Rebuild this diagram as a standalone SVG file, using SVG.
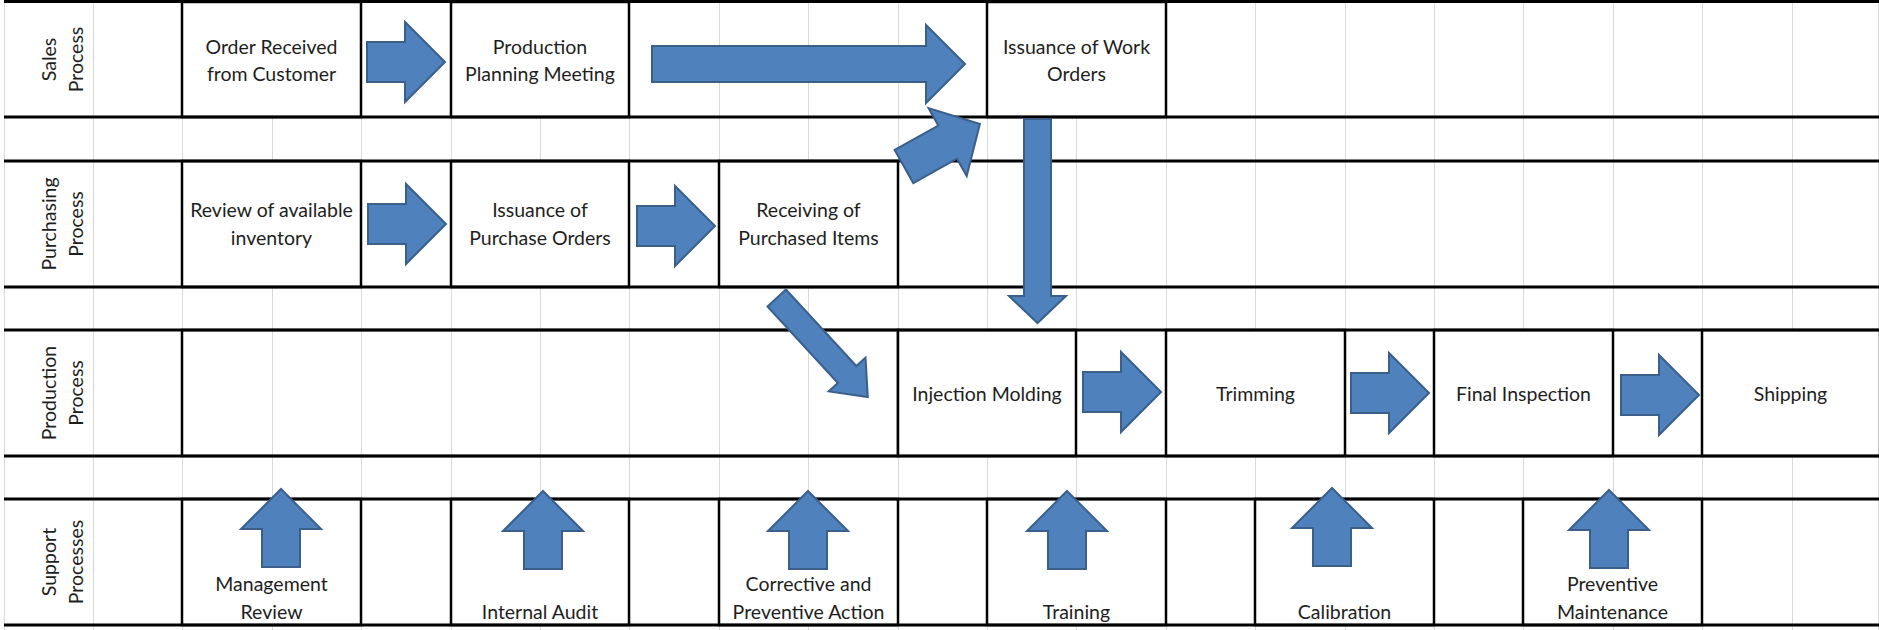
<svg xmlns="http://www.w3.org/2000/svg" width="1879" height="630" viewBox="0 0 1879 630">
<style>
.grid line{stroke:#D9D9D9;stroke-width:1}
.hl line{stroke:#000;stroke-width:3}
.box{fill:#fff;stroke:#000;stroke-width:2.5}
.open{fill:none;stroke:#000;stroke-width:2.5}
text{font-family:Lato,"Liberation Sans",sans-serif;font-size:19.5px;fill:#1e1e1e;text-anchor:middle}
.arrow{fill:#4F81BD;stroke:#3A5F8B;stroke-width:2;stroke-linejoin:miter}
</style>
<defs>
<path id="ra" d="M0,-20 H38 V-40 L78,0 L38,40 V20 H0 Z"/>
<path id="ua" d="M0,0 L40,40 H19 V78 H-19 V40 H-40 Z"/>
</defs>
<rect width="1879" height="630" fill="#fff"/>
<g class="grid">
<line x1="4.5" y1="0" x2="4.5" y2="630"/>
<line x1="93.5" y1="0" x2="93.5" y2="630"/>
<line x1="182.5" y1="0" x2="182.5" y2="630"/>
<line x1="272.5" y1="0" x2="272.5" y2="630"/>
<line x1="361.5" y1="0" x2="361.5" y2="630"/>
<line x1="451.5" y1="0" x2="451.5" y2="630"/>
<line x1="540.5" y1="0" x2="540.5" y2="630"/>
<line x1="629.5" y1="0" x2="629.5" y2="630"/>
<line x1="719.5" y1="0" x2="719.5" y2="630"/>
<line x1="808.5" y1="0" x2="808.5" y2="630"/>
<line x1="898.5" y1="0" x2="898.5" y2="630"/>
<line x1="987.5" y1="0" x2="987.5" y2="630"/>
<line x1="1076.5" y1="0" x2="1076.5" y2="630"/>
<line x1="1166.5" y1="0" x2="1166.5" y2="630"/>
<line x1="1255.5" y1="0" x2="1255.5" y2="630"/>
<line x1="1345.5" y1="0" x2="1345.5" y2="630"/>
<line x1="1434.5" y1="0" x2="1434.5" y2="630"/>
<line x1="1523.5" y1="0" x2="1523.5" y2="630"/>
<line x1="1613.5" y1="0" x2="1613.5" y2="630"/>
<line x1="1702.5" y1="0" x2="1702.5" y2="630"/>
<line x1="1792.5" y1="0" x2="1792.5" y2="630"/>
<line x1="1878.5" y1="0" x2="1878.5" y2="630"/>
</g>
<g id="lane-labels">
<g id="lane-sales"><text transform="rotate(-90 56 59.5)" x="56" y="59.5">Sales</text><text transform="rotate(-90 83 59.5)" x="83" y="59.5">Process</text></g>
<g id="lane-purchasing"><text transform="rotate(-90 56 224)" x="56" y="224">Purchasing</text><text transform="rotate(-90 83 224)" x="83" y="224">Process</text></g>
<g id="lane-production"><text transform="rotate(-90 56 393)" x="56" y="393">Production</text><text transform="rotate(-90 83 393)" x="83" y="393">Process</text></g>
<g id="lane-support"><text transform="rotate(-90 56 562)" x="56" y="562">Support</text><text transform="rotate(-90 83 562)" x="83" y="562">Processes</text></g>
</g>
<g id="nodes">
<g id="order-received"><rect class="box" x="182" y="2" width="179" height="115"/><text x="271.5" y="54">Order Received</text><text x="271.5" y="81">from Customer</text></g>
<g id="production-planning"><rect class="box" x="451" y="2" width="178" height="115"/><text x="540" y="54">Production</text><text x="540" y="81">Planning Meeting</text></g>
<g id="work-orders"><rect class="box" x="987" y="2" width="179" height="115"/><text x="1076.5" y="54">Issuance of Work</text><text x="1076.5" y="81">Orders</text></g>
<g id="review-inventory"><rect class="box" x="182" y="161" width="179" height="126"/><text x="271.5" y="217">Review of available</text><text x="271.5" y="245">inventory</text></g>
<g id="purchase-orders"><rect class="box" x="451" y="161" width="178" height="126"/><text x="540" y="217">Issuance of</text><text x="540" y="245">Purchase Orders</text></g>
<g id="receiving"><rect class="box" x="719" y="161" width="179" height="126"/><text x="808.5" y="217">Receiving of</text><text x="808.5" y="245">Purchased Items</text></g>
<g id="production-empty"><rect class="open" x="182" y="330" width="716" height="126"/></g>
<g id="injection-molding"><rect class="box" x="898" y="330" width="178" height="126"/><text x="987" y="401">Injection Molding</text></g>
<g id="trimming"><rect class="box" x="1166" y="330" width="179" height="126"/><text x="1255.5" y="401">Trimming</text></g>
<g id="final-inspection"><rect class="box" x="1434" y="330" width="179" height="126"/><text x="1523.5" y="401">Final Inspection</text></g>
<g id="shipping"><rect class="box" x="1702" y="330" width="178" height="126"/><text x="1790.5" y="401">Shipping</text></g>
<g id="management-review"><rect class="box" x="182" y="499" width="179" height="126"/><text x="271.5" y="591">Management</text><text x="271.5" y="619">Review</text></g>
<g id="internal-audit"><rect class="box" x="451" y="499" width="178" height="126"/><text x="540" y="619">Internal Audit</text></g>
<g id="capa"><rect class="box" x="719" y="499" width="179" height="126"/><text x="808.5" y="591">Corrective and</text><text x="808.5" y="619">Preventive Action</text></g>
<g id="training"><rect class="box" x="987" y="499" width="179" height="126"/><text x="1076.5" y="619">Training</text></g>
<g id="calibration"><rect class="box" x="1255" y="499" width="179" height="126"/><text x="1344.5" y="619">Calibration</text></g>
<g id="preventive-maintenance"><rect class="box" x="1523" y="499" width="179" height="126"/><text x="1612.5" y="591">Preventive</text><text x="1612.5" y="619">Maintenance</text></g>
</g>
<g class="hl">
<line x1="4" y1="1.5" x2="1879" y2="1.5"/>
<line x1="4" y1="117" x2="1879" y2="117"/>
<line x1="4" y1="161" x2="1879" y2="161"/>
<line x1="4" y1="287" x2="1879" y2="287"/>
<line x1="4" y1="330" x2="1879" y2="330"/>
<line x1="4" y1="456" x2="1879" y2="456"/>
<line x1="4" y1="499" x2="1879" y2="499"/>
<line x1="4" y1="625" x2="1879" y2="625"/>
</g>
<g id="connectors">
<use href="#ra" class="arrow" transform="translate(367 62)"/>
<path class="arrow" d="M652,46 H926 V25 L965,64 L926,103 V82 H652 Z"/>
<path class="arrow" d="M894.7,149.9 L913.3,183.1 L957,158.7 L966.7,176.1 L979.9,124 L928.6,108.1 L938.3,125.5 Z"/>
<path class="arrow" d="M1024,119 H1051 V296 H1066 L1037.5,323 L1009,296 H1024 Z"/>
<use href="#ra" class="arrow" transform="translate(368 224)"/>
<use href="#ra" class="arrow" transform="translate(637 226)"/>
<path class="arrow" d="M785.9,289.5 L767.5,306.5 L837.9,383 L828.7,391.4 L867.8,397 L865.5,357.6 L856.3,366 Z"/>
<use href="#ra" class="arrow" transform="translate(1083 392)"/>
<use href="#ra" class="arrow" transform="translate(1351 393)"/>
<use href="#ra" class="arrow" transform="translate(1621 395)"/>
<use href="#ua" class="arrow" transform="translate(281 489)"/>
<use href="#ua" class="arrow" transform="translate(543 491)"/>
<use href="#ua" class="arrow" transform="translate(808 491)"/>
<use href="#ua" class="arrow" transform="translate(1067 491)"/>
<use href="#ua" class="arrow" transform="translate(1332 488)"/>
<use href="#ua" class="arrow" transform="translate(1609 490)"/>
</g>
</svg>
